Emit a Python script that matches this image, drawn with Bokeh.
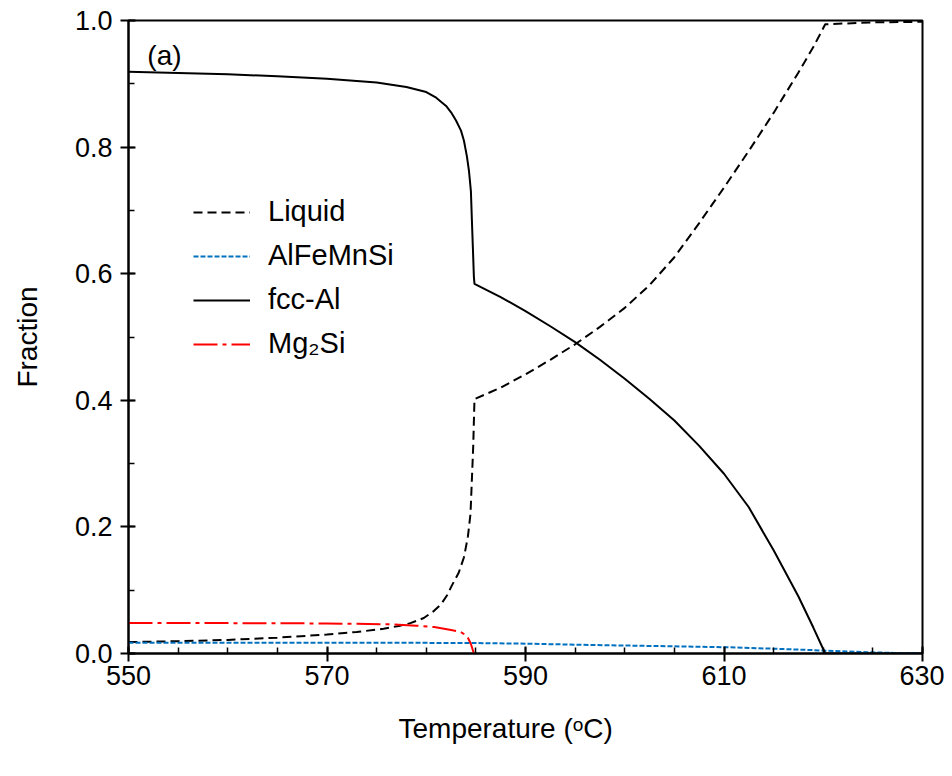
from bokeh.plotting import figure
from bokeh.models import (FixedTicker, Legend, LegendItem, Label, Title,
                          Range1d, PrintfTickFormatter)
from bokeh.embed import file_html
from bokeh.resources import INLINE

# ---- data ----
liquid_T = [550, 555, 560, 565, 570, 573, 575.7, 577.4, 578.4, 579.75, 580.76,
            581.5, 582.1, 582.6, 583.28, 583.8, 584.2, 584.46, 584.73, 584.86,
            587.5, 590, 592.5, 595, 597.5, 600, 602.5, 605, 607.5, 610, 612.5,
            615, 617.5, 619, 620.2, 625, 630]
liquid_F = [0.018, 0.0195, 0.0215, 0.025, 0.030, 0.034, 0.039, 0.044, 0.048,
            0.056, 0.067, 0.078, 0.092, 0.108, 0.128, 0.152, 0.185, 0.221,
            0.326, 0.402, 0.420, 0.441, 0.464, 0.4885, 0.516, 0.546, 0.582,
            0.626, 0.680, 0.736, 0.794, 0.854, 0.918, 0.958, 0.994, 0.997,
            0.998]

alfemnsi_T = [550, 560, 570, 580, 585, 590, 595, 600, 605, 610, 615, 620,
              624.4, 627, 630]
alfemnsi_F = [0.017, 0.017, 0.017, 0.0168, 0.0165, 0.0155, 0.014, 0.0126,
              0.0113, 0.010, 0.0076, 0.0047, 0.002, 0.001, 0.0005]

fcc_T = [550, 555, 560, 565, 570, 575, 578, 580, 581, 582, 582.5, 583, 583.5,
         583.8, 584.1, 584.3, 584.5, 584.6, 584.7, 584.8, 584.86, 587.5, 590,
         592.5, 595, 597.5, 600, 602.5, 605, 607.5, 610, 612.5, 615, 617.5,
         619, 620.2, 625, 630]
fcc_F = [0.919, 0.917, 0.915, 0.912, 0.908, 0.902, 0.895, 0.887, 0.878, 0.865,
         0.855, 0.842, 0.826, 0.810, 0.785, 0.763, 0.730, 0.684, 0.640, 0.595,
         0.584, 0.563, 0.541, 0.517, 0.492, 0.464, 0.434, 0.402, 0.368, 0.328,
         0.284, 0.231, 0.163, 0.090, 0.041, 0.0, 0.0, 0.0]

mg2si_T = [550, 560, 570, 576.4, 579, 580.8, 582.5, 583.45, 584.1, 584.5, 584.8]
mg2si_F = [0.048, 0.048, 0.0475, 0.046, 0.044, 0.0418, 0.037, 0.034, 0.028,
           0.015, 0.0]

x_major_ticks = [550, 570, 590, 610, 630]
x_minor_ticks = list(range(550, 631, 5))
y_major_ticks = [0.0, 0.2, 0.4, 0.6, 0.8, 1.0]
y_minor_ticks = [0.0, 0.1, 0.2, 0.3, 0.4, 0.5, 0.6, 0.7, 0.8, 0.9, 1.0]

series_names = ["Liquid", "AlFeMnSi", "fcc-Al", "Mg\u2082Si"]
x_label = "Temperature (\u1d52C)"
y_label = "Fraction"
panel_tag = "(a)"

FONT = "Liberation Sans"

p = figure(width=944, height=768, x_range=Range1d(550, 630),
           y_range=Range1d(0, 1), output_backend="svg", toolbar_location=None,
           min_border_left=128, min_border_right=22, min_border_top=20,
           min_border_bottom=115)

p.grid.visible = False
p.outline_line_color = "black"
p.outline_line_width = 2
p.outline_line_alpha = 1

p.xaxis.ticker = FixedTicker(ticks=x_major_ticks, minor_ticks=x_minor_ticks)
p.yaxis.ticker = FixedTicker(ticks=y_major_ticks, minor_ticks=y_minor_ticks)
p.yaxis.formatter = PrintfTickFormatter(format="%.1f")

for ax in (p.xaxis[0], p.yaxis[0]):
    ax.axis_line_color = "black"
    ax.axis_line_width = 2
    ax.major_tick_line_color = "black"
    ax.major_tick_line_width = 2
    ax.minor_tick_line_color = "black"
    ax.minor_tick_line_width = 1.5
    ax.major_tick_in = 7
    ax.major_tick_out = 8
    ax.minor_tick_in = 6
    ax.minor_tick_out = 0
    ax.major_label_text_font = FONT
    ax.major_label_text_font_size = "27px"
    ax.major_label_text_color = "black"
    ax.axis_label_text_font = FONT
    ax.axis_label_text_font_size = "28px"
    ax.axis_label_text_font_style = "normal"
    ax.axis_label_text_color = "black"

p.yaxis.axis_label = y_label
p.xaxis.major_label_standoff = 4
p.yaxis.major_label_standoff = 8
p.yaxis.axis_label_standoff = 29

r_liq = p.line(liquid_T, liquid_F, line_color="black", line_width=2,
               line_dash="9 5")
r_afm = p.line(alfemnsi_T, alfemnsi_F, line_color="#0070C0", line_width=2,
               line_dash="5 2")
r_fcc = p.line(fcc_T, fcc_F, line_color="black", line_width=2)
r_mg = p.line(mg2si_T, mg2si_F, line_color="#FF0000", line_width=2,
              line_dash="24 5 4 5")

legend = Legend(items=[LegendItem(label=series_names[0], renderers=[r_liq]),
                       LegendItem(label=series_names[1], renderers=[r_afm]),
                       LegendItem(label=series_names[2], renderers=[r_fcc]),
                       LegendItem(label=series_names[3], renderers=[r_mg])],
                location=(65, 293), glyph_width=57, glyph_height=20,
                spacing=11, label_standoff=18, padding=0, margin=0,
                border_line_alpha=0, background_fill_alpha=0,
                label_text_font=FONT, label_text_font_size="29px",
                label_text_color="black", label_height=20)
p.add_layout(legend)

p.add_layout(Label(x=551.9, y=0.945, text=panel_tag, text_font=FONT,
                   text_font_size="28px", text_baseline="middle",
                   text_color="black"))

# x-axis title (sits slightly left of centre in the reference)
p.add_layout(Title(text=x_label, align="left", offset=270, standoff=46,
                   text_font=FONT, text_font_size="28px",
                   text_font_style="normal", text_color="black"), "below")

open("out.html", "w").write(file_html(p, INLINE))
